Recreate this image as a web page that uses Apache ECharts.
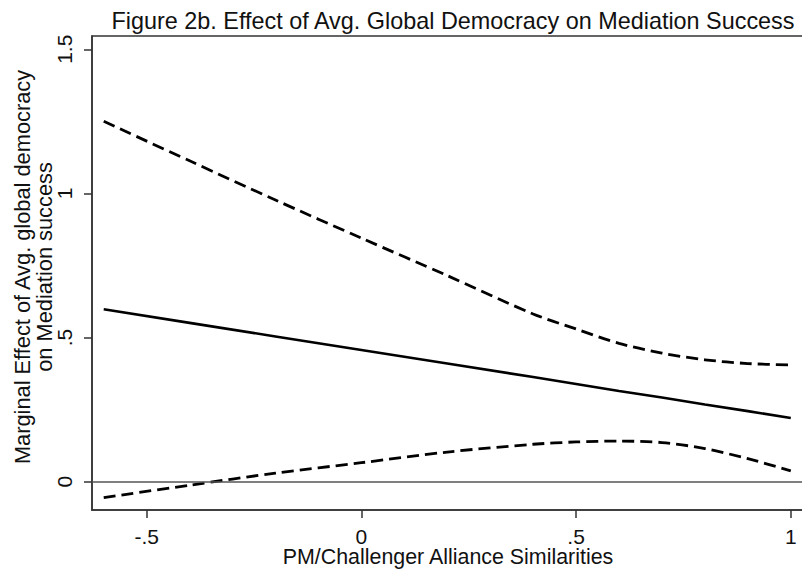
<!DOCTYPE html>
<html>
<head>
<meta charset="utf-8">
<script src="https://cdn.jsdelivr.net/npm/echarts@6/dist/echarts.min.js"></script>
<style>
  html, body { margin: 0; padding: 0; background: #fff; }
  #chart { width: 802px; height: 570px; }
</style>
</head>
<body>
<div id="chart"></div>
<script>
var xs = [-0.6, -0.4, -0.2, 0, 0.2, 0.4, 0.5, 0.6, 0.7, 0.8, 0.9, 1.0];
var effect = [0.598, 0.551, 0.504, 0.457, 0.410, 0.363, 0.339, 0.315, 0.292, 0.268, 0.245, 0.221];
var upper = [1.25, 1.113, 0.977, 0.845, 0.715, 0.582, 0.530, 0.480, 0.446, 0.423, 0.410, 0.405];
var lower = [-0.055, -0.012, 0.030, 0.066, 0.103, 0.130, 0.138, 0.141, 0.136, 0.115, 0.080, 0.038];
var xTicks = [-0.5, 0, 0.5, 1];
var yTicks = [0, 0.5, 1, 1.5];

function pairs(ys) {
  return xs.map(function(x, i) { return [x, ys[i]]; });
}
function stataNum(v) {
  var s = String(v);
  return s.replace(/^0\./, '.').replace(/^-0\./, '-.');
}

var font = 'Liberation Sans, Arial, sans-serif';
var chart = echarts.init(document.getElementById('chart'), null, { renderer: 'svg' });

var option = {
  backgroundColor: '#fff',
  animation: false,
  title: {
    text: 'Figure 2b. Effect of Avg. Global Democracy on Mediation Success',
    left: 448,
    top: 4,
    textAlign: 'center',
    textStyle: { fontFamily: font, fontSize: 23.4, fontWeight: 'normal', color: '#111' }
  },
  grid: {
    left: 92, right: -2, top: 36, bottom: 60,
    outerBoundsMode: 'none',
    containLabel: false,
    show: true, borderColor: '#333', borderWidth: 1.5, backgroundColor: '#fff'
  },
  xAxis: {
    type: 'value',
    min: -0.6273,
    max: 1.0308,
    name: 'PM/Challenger Alliance Similarities',
    nameLocation: 'middle',
    nameGap: 36,
    nameMoveOverlap: false,
    nameTextStyle: { fontFamily: font, fontSize: 21.4, color: '#111' },
    axisLine: { show: true, onZero: false, lineStyle: { color: '#333', width: 1.5 } },
    axisTick: { show: true, length: 8, customValues: xTicks, lineStyle: { color: '#333', width: 1.5 } },
    axisLabel: {
      customValues: xTicks, margin: 16,
      fontFamily: font, fontSize: 21, color: '#111',
      formatter: stataNum
    },
    splitLine: { show: false }
  },
  yAxis: {
    type: 'value',
    min: -0.098,
    max: 1.546,
    name: 'Marginal Effect of Avg. global democracy\non Mediation success',
    nameLocation: 'middle',
    nameRotate: 90,
    nameGap: 37,
    nameMoveOverlap: false,
    nameTextStyle: { fontFamily: font, fontSize: 21.8, color: '#111', lineHeight: 22, padding: [0, 0, 0, 12] },
    axisLine: { show: true, onZero: false, lineStyle: { color: '#333', width: 1.5 } },
    axisTick: { show: true, length: 8, customValues: yTicks, lineStyle: { color: '#333', width: 1.5 } },
    axisLabel: {
      customValues: yTicks, margin: 17, rotate: 90,
      fontFamily: font, fontSize: 21, color: '#111',
      formatter: stataNum
    },
    splitLine: { show: false }
  },
  series: [
    {
      name: 'effect',
      type: 'line',
      data: pairs(effect),
      symbol: 'none',
      lineStyle: { color: '#000', width: 2.6 },
      markLine: {
        silent: true,
        symbol: 'none',
        label: { show: false },
        lineStyle: { color: '#555', width: 1.6, type: 'solid' },
        data: [{ yAxis: 0 }]
      }
    },
    {
      name: 'upper',
      type: 'line',
      data: pairs(upper),
      smooth: 0.3,
      symbol: 'none',
      lineStyle: { color: '#000', width: 2.8, type: [12, 6] }
    },
    {
      name: 'lower',
      type: 'line',
      data: pairs(lower),
      smooth: 0.3,
      symbol: 'none',
      lineStyle: { color: '#000', width: 2.8, type: [12, 6] }
    }
  ]
};
chart.setOption(option);
</script>
</body>
</html>
